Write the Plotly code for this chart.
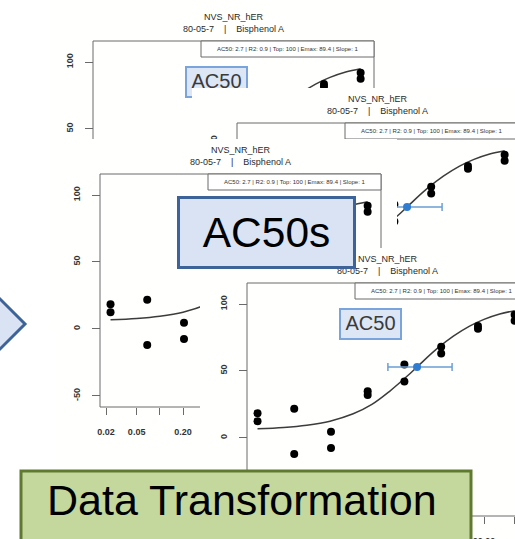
import numpy as np
import plotly.graph_objects as go

# ---------------- data ----------------
conc = [0.0229, 0.0229, 0.0686, 0.0686, 0.206, 0.206, 0.617, 0.617,
        1.85, 1.85, 5.56, 5.56, 16.7, 16.7, 50.0, 50.0]
resp = [18.5, 12.5, 21.8, -12.0, 4.5, -7.5, 34.8, 32.0,
        54.8, 42.2, 68.0, 63.0, 83.5, 81.5, 92.0, 87.5]

curve_conc = [0.0229, 0.05, 0.1, 0.2, 0.4, 0.7, 1.2, 2.0, 3.0, 5.0, 8.0, 13.0, 20.0, 32.0, 50.0]
curve_resp = [6.8, 7.8, 9.5, 12.5, 18.0, 25.0, 35.0, 46.0, 55.5, 67.0, 76.0, 83.5, 88.5, 92.5, 95.0]

ac50_conc = [2.7]
ac50_resp = [53.0]
ac50_low = [1.13]
ac50_high = [7.7]

x_tickvals = [0.02, 0.05, 0.1, 0.2, 0.5, 1, 2, 5, 10, 20, 50]
x_ticktext = ['0.02', '0.05', '', '0.20', '0.50', '', '2.00', '5.00', '', '20.00', '50.00']
y_tickvals = [-50, 0, 50, 100]
y_ticktext = ['-50', '0', '50', '100']

assay_name = 'NVS_NR_hER'
chem_name = '80-05-7    |    Bisphenol A'
stats_text = 'AC50: 2.7 | R2: 0.9 | Top: 100 | Emax: 89.4 | Slope: 1'
label_small = 'AC50'
label_big = 'AC50s'
label_bottom = 'Data Transformation'

# ---------------- layout geometry (pixels) ----------------
W, H = 515, 539
BOX_W, BOX_H = 281, 233
PX_PER_DECADE = 77.0
PX_PER_UNIT = 1.339
panels = [  # plot-box corner and the white "screenshot" region of each stacked panel
    dict(left=93, top=41, region=(50, 0, 400, 330), callout=True),
    dict(left=237, top=123, region=(192, 88, 515, 420), callout=False),
    dict(left=100, top=174, region=(55, 139, 397, 539), callout=False),
    dict(left=247, top=283, region=(200, 248, 515, 539), callout=True),
]

FONT = 'Liberation Sans, Arial, Helvetica, sans-serif'
GRAY = '#6a6a6a'


def fx(p):
    return p / W


def fy(q):
    return 1 - q / H


fig = go.Figure()
layout = dict(
    width=W, height=H, autosize=False,
    margin=dict(l=0, r=0, t=0, b=0),
    paper_bgcolor='#ffffff', plot_bgcolor='#fffffe',
    template='none', showlegend=False,
    font=dict(family=FONT, color='#222222'),
)
shapes = []
annotations = []

for i, pnl in enumerate(panels, start=1):
    L, T = pnl['left'], pnl['top']
    rx0, ry0, rx1, ry1 = pnl['region']

    def lx(p, L=L):
        return np.log10(x_tickvals[0]) + (p - (L + 6)) / PX_PER_DECADE

    def cx(p, L=L):
        return float(10 ** lx(p, L))

    def vy(q, T=T):
        return 100 - (q - (T + 21)) / PX_PER_UNIT

    xr = 'x' if i == 1 else f'x{i}'
    yr = 'y' if i == 1 else f'y{i}'
    xk = 'xaxis' if i == 1 else f'xaxis{i}'
    yk = 'yaxis' if i == 1 else f'yaxis{i}'

    layout[xk] = dict(
        type='log', domain=[fx(rx0), fx(rx1)], range=[lx(rx0), lx(rx1)],
        anchor='free', position=fy(T + BOX_H), side='bottom',
        tickmode='array', tickvals=x_tickvals, ticktext=x_ticktext,
        ticks='outside', ticklen=7, tickwidth=1, tickcolor=GRAY,
        tickfont=dict(size=9, color='#333333', family=FONT, weight='bold'),
        ticklabelstandoff=9,
        showline=False, showgrid=False, zeroline=False, automargin=False,
        fixedrange=True,
    )
    layout[yk] = dict(
        domain=[fy(ry1), fy(ry0)], range=[vy(ry1), vy(ry0)],
        anchor='free', position=fx(L), side='left',
        tickmode='array', tickvals=y_tickvals, ticktext=y_ticktext,
        ticks='outside', ticklen=8, tickwidth=1, tickcolor=GRAY, tickangle=-90,
        tickfont=dict(size=9, color='#333333', family=FONT, weight='bold'),
        ticklabelstandoff=8,
        showline=False, showgrid=False, zeroline=False, automargin=False,
        fixedrange=True,
    )

    # plot frame (R style box)
    shapes.append(dict(type='rect', xref=xr, yref=yr, layer='below',
                       x0=cx(L), x1=cx(L + BOX_W), y0=vy(T + BOX_H), y1=vy(T),
                       line=dict(color=GRAY, width=1), fillcolor='rgba(0,0,0,0)'))
    # stats box
    shapes.append(dict(type='rect', xref=xr, yref=yr, layer='below',
                       x0=cx(L + 108), x1=cx(L + BOX_W), y0=vy(T + 16), y1=vy(T),
                       line=dict(color=GRAY, width=1), fillcolor='white'))

    fig.add_trace(go.Scatter(
        x=curve_conc, y=curve_resp, mode='lines', xaxis=xr, yaxis=yr,
        line=dict(color='#3c3c3c', width=1.5, shape='spline'), hoverinfo='skip'))
    fig.add_trace(go.Scatter(
        x=conc, y=resp, mode='markers', xaxis=xr, yaxis=yr,
        marker=dict(color='black', size=8, line=dict(width=0))))
    fig.add_trace(go.Scatter(
        x=ac50_conc, y=ac50_resp, mode='markers', xaxis=xr, yaxis=yr,
        marker=dict(color='#2f7cd0', size=8, line=dict(width=0)),
        error_x=dict(type='data', symmetric=False,
                     array=[h - c for h, c in zip(ac50_high, ac50_conc)],
                     arrayminus=[c - lo for c, lo in zip(ac50_conc, ac50_low)],
                     color='#6b9fd3', thickness=1.5, width=4)))

    if pnl['callout']:
        # small AC50 call-out box (hidden behind other panels in B and C)
        shapes.append(dict(type='rect', xref=xr, yref=yr, layer='below',
                           x0=cx(L + 93), x1=cx(L + 154), y0=vy(T + 56), y1=vy(T + 26),
                           line=dict(color='#79a5dc', width=2), fillcolor='#dce6f4'))
        fig.add_trace(go.Scatter(
            x=[cx(L + 123.5)], y=[vy(T + 42)], mode='text', xaxis=xr, yaxis=yr,
            text=[label_small], textposition='middle center',
            textfont=dict(size=20, color='#3a3a3a', family=FONT), hoverinfo='skip'))

    annotations.append(dict(
        xref='paper', yref='paper', x=fx(L + BOX_W / 2), y=fy(T - 18),
        xanchor='center', yanchor='middle', showarrow=False,
        text=f'{assay_name}<br>{chem_name}', font=dict(size=9, color='#2a2a2a', family=FONT)))
    annotations.append(dict(
        xref='paper', yref='paper', x=fx(L + (108 + BOX_W) / 2), y=fy(T + 8),
        xanchor='center', yanchor='middle', showarrow=False,
        text=stats_text, font=dict(size=6, color='#333333', family=FONT)))

# big "AC50s" call-out
annotations.append(dict(
    xref='paper', yref='paper', x=fx(266.5), y=fy(232.5), xanchor='center', yanchor='middle',
    showarrow=False, text=label_big, font=dict(size=42.5, color='black', family=FONT),
    width=173, height=67, bgcolor='#dae3f3', bordercolor='#3d6399', borderwidth=3, borderpad=0))

# green "Data Transformation" box
shapes.append(dict(type='rect', xref='paper', yref='paper', layer='above',
                   x0=fx(21), x1=fx(471), y0=fy(575), y1=fy(471),
                   line=dict(color='#5f7a30', width=3), fillcolor='#c4d79c'))
annotations.append(dict(
    xref='paper', yref='paper', x=fx(242), y=fy(499.5), xanchor='center', yanchor='middle',
    showarrow=False, text=label_bottom, font=dict(size=43, color='black', family=FONT)))

# chevron arrow tip on the left
shapes.append(dict(type='path', xref='paper', yref='paper', layer='above',
                   path=f'M {fx(-30)},{fy(269)} L {fx(25)},{fy(324)} L {fx(-30)},{fy(379)} Z',
                   line=dict(color='#3d6399', width=3), fillcolor='#dae3f3'))

layout['shapes'] = shapes
layout['annotations'] = annotations
fig.update_layout(**layout)
fig.write_html('out.html',
               config={'displayModeBar': False, 'staticPlot': True},
               post_script="document.body.style.margin='0px';"
                           "document.body.style.overflow='hidden';")
